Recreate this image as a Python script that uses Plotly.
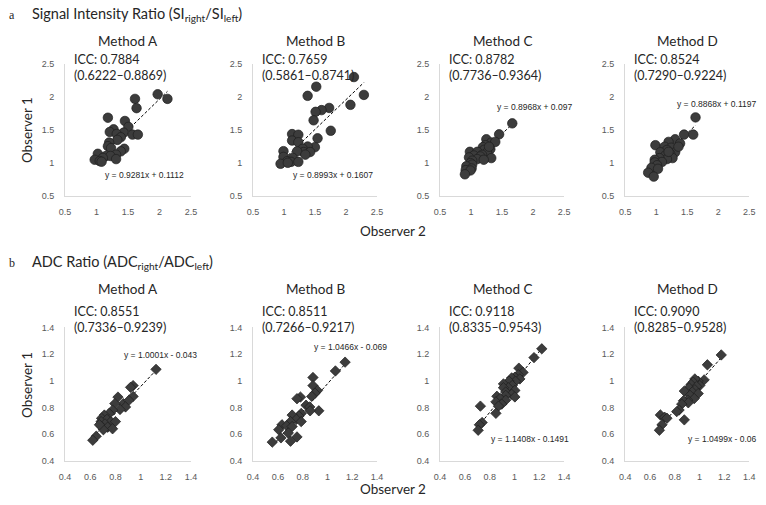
import plotly.graph_objects as go

W, H = 766, 505

methods = ["Method A", "Method B", "Method C", "Method D"]

# a: signal intensity ratio, observer 2 (x) vs observer 1 (y)
si_obs2_A = [1.97, 2.125, 1.61, 1.635, 1.18, 1.45, 1.505, 1.27, 1.21, 1.43, 1.32, 1.57, 1.656, 1.385, 1.33,
             1.20, 1.18, 1.23, 1.44, 1.385, 1.02, 1.31, 1.15, 1.22, 1.10, 0.97, 1.31, 1.05, 1.08]
si_obs1_A = [2.04, 1.97, 1.97, 1.83, 1.685, 1.636, 1.547, 1.51, 1.47, 1.46, 1.44, 1.43, 1.43, 1.39, 1.35,
             1.31, 1.255, 1.226, 1.216, 1.177, 1.14, 1.127, 1.107, 1.107, 1.078, 1.05, 1.06, 1.03, 1.02]
si_obs2_B = [2.127, 1.519, 1.38, 2.287, 2.07, 1.727, 1.604, 1.508, 1.476, 1.753, 1.129, 1.23, 1.54, 1.129, 1.23,
             1.497, 1.38, 1.30, 1.316, 1.42, 1.21, 0.99, 1.343, 0.99, 1.14, 1.05, 1.113, 0.943, 1.06, 1.23]
si_obs1_B = [2.30, 2.154, 2.016, 2.03, 1.88, 1.833, 1.80, 1.774, 1.646, 1.488, 1.438, 1.428, 1.374, 1.34, 1.315,
             1.24, 1.25, 1.216, 1.167, 1.167, 1.177, 1.18, 1.127, 1.093, 1.078, 1.028, 1.018, 0.989, 1.004, 1.018]
si_obs2_C = [1.664, 1.452, 1.246, 1.325, 1.23, 1.19, 1.31, 1.21, 0.98, 1.10, 1.257, 1.177, 1.045, 1.15, 0.966,
             1.325, 1.098, 1.204, 1.018, 0.99, 1.018, 0.923, 1.008, 0.913, 0.99, 0.90, 1.39, 1.29]
si_obs1_C = [1.60, 1.434, 1.36, 1.31, 1.27, 1.24, 1.21, 1.20, 1.17, 1.17, 1.16, 1.124, 1.114, 1.10, 1.085,
             1.075, 1.06, 1.05, 1.036, 1.0, 0.977, 0.952, 0.918, 0.893, 0.888, 0.83, 1.32, 1.247]
si_obs2_D = [1.635, 1.45, 1.598, 1.306, 1.20, 1.386, 0.988, 1.137, 1.243, 1.174, 1.306, 1.068, 1.227, 1.147,
             1.264, 1.174, 1.052, 0.977, 1.094, 0.977, 1.015, 0.924, 1.03, 0.871, 0.961, 1.20, 1.36]
si_obs1_D = [1.69, 1.43, 1.43, 1.36, 1.32, 1.296, 1.27, 1.247, 1.232, 1.198, 1.163, 1.163, 1.139, 1.114,
             1.075, 1.06, 1.075, 1.05, 1.016, 1.01, 0.967, 0.928, 0.913, 0.854, 0.795, 1.17, 1.247]

# b: ADC ratio
adc_obs2_A = [1.122, 0.94, 0.92, 0.82, 0.94, 0.862, 0.906, 0.88, 0.795, 0.836, 0.777, 0.75, 0.712, 0.69,
              0.732, 0.686, 0.764, 0.717, 0.69, 0.738, 0.80, 0.777, 0.704, 0.673, 0.647, 0.62]
adc_obs1_A = [1.086, 0.964, 0.951, 0.878, 0.883, 0.829, 0.853, 0.804, 0.829, 0.785, 0.78, 0.755, 0.743, 0.719,
              0.711, 0.694, 0.694, 0.677, 0.657, 0.652, 0.694, 0.64, 0.633, 0.67, 0.584, 0.554]
adc_obs2_B = [1.142, 1.064, 0.883, 0.883, 0.919, 0.899, 0.873, 0.782, 0.754, 0.827, 0.857, 0.93, 0.86, 0.788,
              0.77, 0.715, 0.749, 0.788, 0.702, 0.633, 0.671, 0.715, 0.607, 0.684, 0.625, 0.754, 0.702, 0.555]
adc_obs1_B = [1.14, 1.074, 1.025, 0.964, 0.927, 0.907, 0.883, 0.878, 0.866, 0.817, 0.804, 0.775, 0.775, 0.755,
              0.736, 0.743, 0.711, 0.694, 0.694, 0.67, 0.662, 0.657, 0.633, 0.608, 0.572, 0.579, 0.547, 0.54]
adc_obs2_C = [1.220, 1.157, 1.035, 1.069, 1.030, 1.003, 0.977, 1.043, 1.008, 0.956, 0.911, 0.982, 0.950, 0.911,
              1.003, 0.929, 0.977, 0.929, 0.858, 1.003, 0.884, 0.929, 0.850, 0.897, 0.871, 0.725, 0.850, 0.739,
              0.717, 0.707]
adc_obs1_C = [1.24, 1.174, 1.095, 1.063, 1.046, 1.027, 1.022, 1.014, 0.997, 0.997, 0.977, 0.965, 0.948, 0.948,
              0.928, 0.916, 0.899, 0.891, 0.884, 0.879, 0.867, 0.855, 0.842, 0.825, 0.81, 0.81, 0.756, 0.687,
              0.67, 0.629]
adc_obs2_D = [1.175, 1.063, 1.037, 0.989, 0.962, 0.949, 0.931, 1.002, 0.976, 0.915, 0.962, 0.941, 0.877, 0.989,
              0.923, 0.957, 0.904, 0.87, 0.909, 0.856, 0.835, 0.816, 0.877, 0.684, 0.718, 0.737, 0.697, 0.676]
adc_obs1_D = [1.194, 1.12, 1.007, 0.997, 1.014, 0.99, 0.972, 0.965, 0.958, 0.948, 0.933, 0.916, 0.923, 0.904,
              0.891, 0.867, 0.855, 0.85, 0.835, 0.825, 0.781, 0.769, 0.707, 0.744, 0.727, 0.719, 0.67, 0.629]

si_icc = ["ICC: 0.7884<br>(0.6222\u20130.8869)", "ICC: 0.7659<br>(0.5861\u20130.8741)",
          "ICC: 0.8782<br>(0.7736\u20130.9364)", "ICC: 0.8524<br>(0.7290\u20130.9224)"]
adc_icc = ["ICC: 0.8551<br>(0.7336\u20130.9239)", "ICC: 0.8511<br>(0.7266\u20130.9217)",
           "ICC: 0.9118<br>(0.8335\u20130.9543)", "ICC: 0.9090<br>(0.8285\u20130.9528)"]
si_fit = [(0.9281, 0.1112), (0.8993, 0.1607), (0.8968, 0.097), (0.8868, 0.1197)]
adc_fit = [(1.0001, -0.043), (1.0466, -0.069), (1.1408, -0.1491), (1.0499, -0.06)]
si_eq = ["y = 0.9281x + 0.1112", "y = 0.8993x + 0.1607", "y = 0.8968x + 0.097", "y = 0.8868x + 0.1197"]
adc_eq = ["y = 1.0001x - 0.043", "y = 1.0466x - 0.069", "y = 1.1408x - 0.1491", "y = 1.0499x - 0.06"]

si_x = [si_obs2_A, si_obs2_B, si_obs2_C, si_obs2_D]
si_y = [si_obs1_A, si_obs1_B, si_obs1_C, si_obs1_D]
adc_x = [adc_obs2_A, adc_obs2_B, adc_obs2_C, adc_obs2_D]
adc_y = [adc_obs1_A, adc_obs1_B, adc_obs1_C, adc_obs1_D]

# layout in pixels
col_px = [(60, 188), (251, 377), (441, 567), (629, 755)]
row_px = [(60, 195), (329, 465)]
# (x, y, anchor) of the trendline equations
eq_pos = [[(141, 173, "center"), (332, 173, "center"), (537, 104, "center"), (765, 101, "right")],
          [(157, 357, "center"), (350, 349, "center"), (532, 443, "center"), (765, 443, "right")]]

TXT = "Lato, Liberation Sans, sans-serif"
TICK = "Liberation Sans, Arial, sans-serif"


def px(x):
    return x / W


def py(y):
    return 1 - y / H


fig = go.Figure()
annotations = []

rows = [
    dict(xs=si_x, ys=si_y, icc=si_icc, fit=si_fit, eq=si_eq, rng=[0.5, 2.5], dt=0.5,
         sym="circle", size=9.5),
    dict(xs=adc_x, ys=adc_y, icc=adc_icc, fit=adc_fit, eq=adc_eq, rng=[0.4, 1.4], dt=0.2,
         sym="diamond", size=8),
]

n = 0
for r, row in enumerate(rows):
    y0, y1 = row_px[r]
    for c in range(4):
        n += 1
        sfx = "" if n == 1 else str(n)
        x0, x1 = col_px[c]
        xs, ys = row["xs"][c], row["ys"][c]
        m, b = row["fit"][c]
        lo, hi = min(xs), max(xs)
        fig.add_trace(go.Scatter(x=[lo, hi], y=[m * lo + b, m * hi + b], mode="lines",
                                 line=dict(color="#000000", width=1, dash="3px,2px"),
                                 xaxis="x" + sfx, yaxis="y" + sfx, showlegend=False))
        fig.add_trace(go.Scatter(x=xs, y=ys, mode="markers",
                                 marker=dict(symbol=row["sym"], size=row["size"], color="#3c3c3c",
                                             line=dict(color="#1e1e1e", width=0.7)),
                                 xaxis="x" + sfx, yaxis="y" + sfx, showlegend=False))
        ax = dict(range=row["rng"], dtick=row["dt"], tick0=row["rng"][0], showgrid=False,
                  zeroline=False, showline=True, linecolor="#d9d9d9", linewidth=1, ticks="",
                  tickfont=dict(family=TICK, size=9, color="#595959"))
        fig.layout["xaxis" + sfx] = dict(ax, domain=[px(x0), px(x1)], anchor="y" + sfx,
                                         ticklabelstandoff=7)
        fig.layout["yaxis" + sfx] = dict(ax, domain=[py(y1), py(y0)], anchor="x" + sfx,
                                         ticklabelstandoff=8)

        title_y = 37 if r == 0 else 290
        annotations.append(dict(text=methods[c], x=px((x0 + x1) / 2), y=py(title_y), xref="paper",
                                yref="paper", showarrow=False, xanchor="center", yanchor="middle",
                                font=dict(family=TXT, size=13.5, color="#262626")))
        icc_y = 64 if r == 0 else 321
        annotations.append(dict(text=row["icc"][c], x=px(x0 + 7), y=py(icc_y), xref="paper",
                                yref="paper", showarrow=False, xanchor="left", yanchor="middle",
                                align="left", font=dict(family=TXT, size=12.5, color="#262626")))
        ex, ey, anc = eq_pos[r][c]
        annotations.append(dict(text=row["eq"][c], x=px(ex), y=py(ey), xref="paper", yref="paper",
                                showarrow=False, xanchor=anc, yanchor="middle",
                                font=dict(family=TICK, size=8.5, color="#262626")))

sections = [("a", "Signal Intensity Ratio (SI<sub>right</sub>/SI<sub>left</sub>)", 10),
            ("b", "ADC Ratio (ADC<sub>right</sub>/ADC<sub>left</sub>)", 263)]
for letter, label, yy in sections:
    annotations.append(dict(text=letter, x=px(1), y=py(yy), xref="paper", yref="paper",
                            showarrow=False, xanchor="left", yanchor="middle",
                            font=dict(family="Liberation Serif, serif", size=12, color="#262626")))
    annotations.append(dict(text=label, x=px(24), y=py(yy), xref="paper", yref="paper",
                            showarrow=False, xanchor="left", yanchor="middle",
                            font=dict(family=TXT, size=14.5, color="#262626")))

for yy in (231, 494):
    annotations.append(dict(text="Observer 2", x=px(393), y=py(yy), xref="paper", yref="paper",
                            showarrow=False, xanchor="center", yanchor="middle",
                            font=dict(family=TXT, size=13.5, color="#262626")))
for yy in (128, 388):
    annotations.append(dict(text="Observer 1", x=px(22), y=py(yy), xref="paper", yref="paper",
                            showarrow=False, textangle=-90, xanchor="center", yanchor="middle",
                            font=dict(family=TXT, size=13.5, color="#262626")))

fig.update_layout(width=W, height=H, margin=dict(l=0, r=0, t=0, b=0),
                  paper_bgcolor="white", plot_bgcolor="white", annotations=annotations)

# the page body has a default 8px margin; drop it so the figure fills the window
fig.write_html("out.html", config={"displayModeBar": False},
               post_script="document.body.style.margin = '0px';")
